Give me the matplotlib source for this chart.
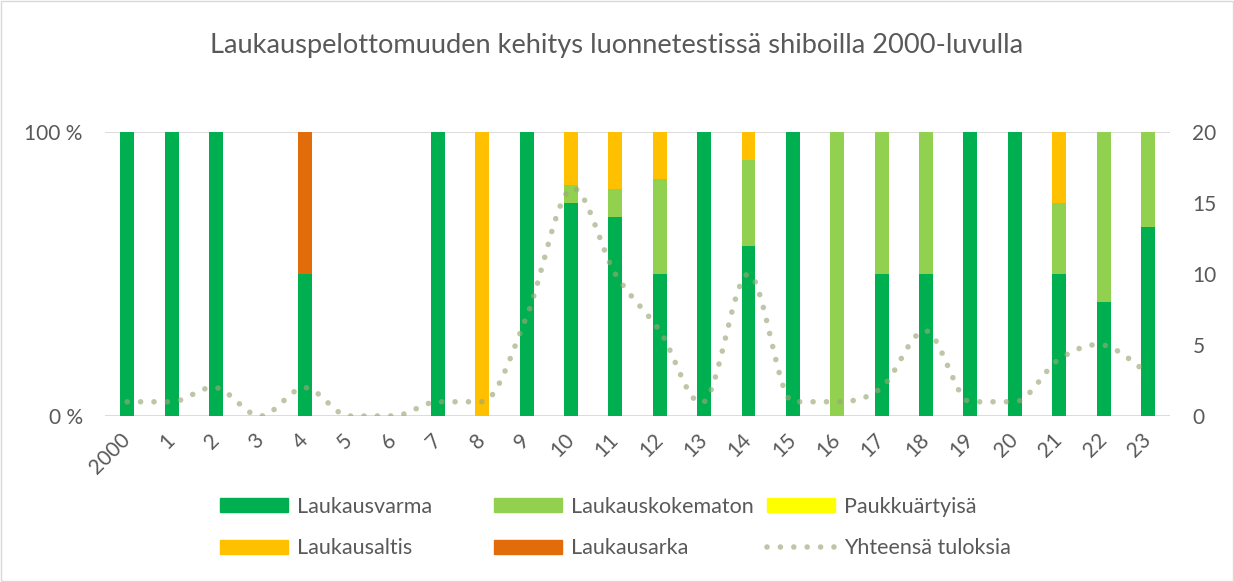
import numpy as np
import matplotlib
matplotlib.use('Agg')
import matplotlib.pyplot as plt
from matplotlib.patches import Patch, Rectangle
from matplotlib.lines import Line2D

plt.rcParams['font.family'] = ['Lato', 'DejaVu Sans']

years = ['2000', '1', '2', '3', '4', '5', '6', '7', '8', '9', '10', '11',
         '12', '13', '14', '15', '16', '17', '18', '19', '20', '21', '22', '23']

# counts per year
varma = [1, 1, 2, 0, 1, 0, 0, 1, 0, 7, 12, 7, 3, 1, 6, 1, 0, 1, 3, 1, 1, 2, 2, 2]
kokematon = [0, 0, 0, 0, 0, 0, 0, 0, 0, 0, 1, 1, 2, 0, 3, 0, 1, 1, 3, 0, 0, 1, 3, 1]
paukku = [0] * 24
altis = [0, 0, 0, 0, 0, 0, 0, 0, 1, 0, 3, 2, 1, 0, 1, 0, 0, 0, 0, 0, 0, 1, 0, 0]
arka = [0, 0, 0, 0, 1, 0, 0, 0, 0, 0, 0, 0, 0, 0, 0, 0, 0, 0, 0, 0, 0, 0, 0, 0]

series = [('Laukausvarma', varma, '#00B050'),
          ('Laukauskokematon', kokematon, '#92D050'),
          ('Paukkuärtyisä', paukku, '#FFFF00'),
          ('Laukausaltis', altis, '#FFC000'),
          ('Laukausarka', arka, '#E26B0A')]

total = np.sum([s[1] for s in series], axis=0)
txt = '#595959'
linecol = '#9AA878'
dots = (0, (0.01, 2.4))


def smooth(x, y, n=40):
    # bezier smoothing roughly like Excel's "smoothed line"
    x = np.asarray(x, float)
    y = np.asarray(y, float)
    m = len(x)
    tx = np.zeros(m)
    ty = np.zeros(m)
    for i in range(m):
        a = max(i - 1, 0)
        b = min(i + 1, m - 1)
        tx[i] = (x[b] - x[a]) / 6
        ty[i] = (y[b] - y[a]) / 6
        if (i > 0 and y[i] == y[i - 1]) or (i < m - 1 and y[i] == y[i + 1]):
            ty[i] = 0
    t = np.linspace(0, 1, n, endpoint=False)
    xs, ys = [], []
    for i in range(m - 1):
        p0 = np.array([x[i], y[i]])
        p3 = np.array([x[i + 1], y[i + 1]])
        c1 = p0 + np.array([tx[i], ty[i]])
        c2 = p3 - np.array([tx[i + 1], ty[i + 1]])
        b = ((1 - t) ** 3)[:, None] * p0 + (3 * (1 - t) ** 2 * t)[:, None] * c1 \
            + (3 * (1 - t) * t ** 2)[:, None] * c2 + (t ** 3)[:, None] * p3
        xs.extend(b[:, 0])
        ys.extend(b[:, 1])
    xs.append(x[-1])
    ys.append(y[-1])
    return np.array(xs), np.array(ys)


fig = plt.figure(figsize=(12.34, 5.82), dpi=100)
fig.patches.append(Rectangle((0.001, 0.001), 0.998, 0.998, transform=fig.transFigure,
                             fill=False, edgecolor='#D9D9D9', linewidth=1))

ax = fig.add_axes([0.0851, 0.2852, 0.8631, 0.488])
ax2 = ax.twinx()

x = np.arange(len(years))
safe = np.where(total > 0, total, 1)
bottom = np.zeros(len(years))
for name, vals, col in series:
    pct = np.array(vals) / safe * 100
    ax.bar(x, pct, 0.315, bottom=bottom, color=col, zorder=2)
    bottom += pct

ax.set_ylim(0, 100)
ax.set_xlim(-0.5, len(years) - 0.5)
ax.set_yticks([0, 100])
ax.set_yticklabels(['0 %', '100 %'])
ax.set_xticks(x)
ax.set_xticklabels(years, rotation=45, ha='right', va='center', rotation_mode='anchor')
ax.grid(axis='y', color='#D9D9D9', linewidth=1.3, zorder=0)
ax.tick_params(length=0, labelcolor=txt, labelsize=15, pad=16)
ax.tick_params(axis='x', pad=15)
for s in ax.spines.values():
    s.set_visible(False)

sx, sy = smooth(x, total)
ax2.plot(sx, sy, color=linecol, linewidth=4, linestyle=dots,
         dash_capstyle='round', alpha=0.65, zorder=3)
ax2.set_ylim(0, 20)
ax2.set_yticks([0, 5, 10, 15, 20])
ax2.tick_params(length=0, labelcolor=txt, labelsize=15, pad=16)
for s in ax2.spines.values():
    s.set_visible(False)

fig.text(0.5, 0.922, 'Laukauspelottomuuden kehitys luonnetestissä shiboilla 2000-luvulla',
         ha='center', va='center', fontsize=19.6, color=txt)

handles = [Patch(color=col) for _, _, col in series]
handles.append(Line2D([0], [0], color=linecol, linewidth=4, alpha=0.65,
                      linestyle=dots, dash_capstyle='round'))
labels = [s[0] for s in series] + ['Yhteensä tuloksia']
columns = [[0, 3], [1, 4], [2, 5]]
col_x = [220, 494, 767]
for cx, idx in zip(col_x, columns):
    leg = fig.legend([handles[i] for i in idx], [labels[i] for i in idx],
                     loc='center left', bbox_to_anchor=(cx / 1234, 0.0936),
                     frameon=False, fontsize=15.5, labelcolor=txt,
                     handlelength=3.16, handleheight=0.6, handletextpad=0.42,
                     labelspacing=1.0, borderpad=0, borderaxespad=0)

fig.savefig('out.png', dpi=100)
